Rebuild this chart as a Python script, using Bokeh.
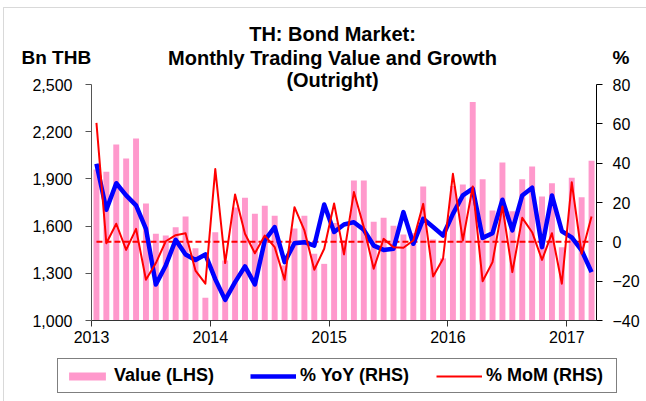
import pandas as pd
from bokeh.plotting import figure
from bokeh.models import (ColumnDataSource, Range1d, LinearAxis, FixedTicker,
                          NumeralTickFormatter, Legend, LegendItem, Label, BoxAnnotation)
from bokeh.embed import file_html
from bokeh.resources import INLINE

# ---- data (Jan 2013 .. Mar 2017) ----
months = [d.strftime("%Y-%m") for d in pd.date_range("2013-01-01", "2017-03-01", freq="MS")]

value_bn_thb = [1960, 1945, 2119, 2030, 2157, 1744, 1551, 1540, 1593, 1661, 1460, 1144,
                1561, 1381, 1718, 1780, 1678, 1729, 1665, 1350, 1585, 1665, 1424, 1360,
                1620, 1510, 1890, 1890, 1627, 1653, 1602, 1547, 1555, 1852, 1515, 1395,
                1855, 1864, 2388, 1898, 1699, 2004, 1695, 1898, 1979, 1788, 1873, 1466,
                1907, 1784, 2015]

yoy_pct = [39.7, 16.3, 29.8, 23.6, 18.5, 6.6, -21.7, -12.0, 1.0, -6.4, -9.2, -6.4,
           -19.0, -29.5, -20.5, -12.5, -21.7, 0.7, 7.5, -10.3, -0.7, -0.2, -1.9, 19.0,
           5.0, 8.8, 10.0, 6.1, -1.9, -4.1, -3.5, 15.1, -1.0, 11.7, 7.5, 3.2,
           14.2, 23.6, 27.0, 2.0, 4.4, 21.4, 5.8, 23.6, 27.5, -2.7, 23.6, 5.4,
           2.3, -4.4, -15.4]

mom_pct = [60.5, -0.7, 9.2, -4.1, 6.6, -19.3, -10.8, 0.3, 3.4, 4.4, -14.6, -21.3,
           37.0, -10.8, 24.1, 4.1, -5.8, 3.2, -2.7, -19.3, 17.6, 5.8, -14.2, -3.5,
           19.5, -6.4, 25.3, 7.5, -13.7, 1.5, -2.7, -3.0, 0.7, 19.3, -17.6, -8.6,
           34.6, 0.7, 28.1, -20.0, -10.3, 18.0, -15.4, 12.2, 4.9, -9.2, 4.4, -21.3,
           30.3, -6.1, 12.9]

zero_ref = [0.0] * len(months)          # the dashed 0 % reference line
year_labels = ["2013", "2014", "2015", "2016", "2017"]
left_ticks = [1000, 1300, 1600, 1900, 2200, 2500]
right_ticks = [-40, -20, 0, 20, 40, 60, 80]
title_lines = ["TH: Bond Market:", "Monthly Trading Value and Growth", "(Outright)"]
left_unit = "Bn THB"
right_unit = "%"
series_names = ["Value (LHS)", "% YoY (RHS)", "% MoM (RHS)"]

# ---- geometry (pixels) ----
W, H = 646, 401
AX_L, AX_R, AX_T, AX_B = 91, 596, 84, 320      # where the axes box sits on the canvas
LV0, LV1 = left_ticks[0], left_ticks[-1]
RV0, RV1 = right_ticks[0], right_ticks[-1]
X0, X1 = -0.5, len(months) - 0.5

kx = (X1 - X0) / (AX_R - AX_L)
kl = (LV1 - LV0) / (AX_B - AX_T)
kr = (RV1 - RV0) / (AX_B - AX_T)

FONT = "Liberation Sans"

idx = list(range(len(months)))
src = ColumnDataSource(dict(i=idx, month=months, value=value_bn_thb, yoy=yoy_pct,
                            mom=mom_pct, zero=zero_ref))

p = figure(width=W, height=H, output_backend="svg", toolbar_location=None,
           x_range=Range1d(X0 - AX_L * kx, X1 + (W - AX_R) * kx),
           y_range=Range1d(LV0 - (H - AX_B) * kl, LV1 + AX_T * kl),
           min_border=0)
p.extra_y_ranges = {"pct": Range1d(RV0 - (H - AX_B) * kr, RV1 + AX_T * kr)}
p.xgrid.visible = False
p.ygrid.visible = False
p.outline_line_color = None
p.background_fill_color = "white"
p.border_fill_color = "white"

bars = p.vbar(x="i", top="value", bottom=LV0, width=0.6, source=src,
              fill_color="#FF99CC", line_color=None)
p.line(x="i", y="zero", source=src, y_range_name="pct",
       line_color="#FF0000", line_width=2, line_dash="6 3")
yoy_r = p.line(x="i", y="yoy", source=src, y_range_name="pct",
               line_color="#0000FF", line_width=4.5, line_join="round")
mom_r = p.line(x="i", y="mom", source=src, y_range_name="pct",
               line_color="#FF0000", line_width=2, line_join="round")

# x axis: year boundaries, drawn at value 1,000
year_pos = [i - 0.5 for i, m in enumerate(months) if m.endswith("-01")]
xa = p.xaxis[0]
xa.fixed_location = LV0
xa.bounds = (X0, X1)
xa.ticker = FixedTicker(ticks=year_pos)
xa.major_label_overrides = {pos: lab for pos, lab in zip(year_pos, year_labels)}
xa.minor_tick_line_color = None
xa.major_tick_in = 0
xa.major_tick_out = 6
xa.major_label_standoff = 4
xa.axis_line_color = "#333333"
xa.major_tick_line_color = "#333333"
xa.major_label_text_font = FONT
xa.major_label_text_font_size = "16px"
xa.major_label_text_color = "black"

ya = p.yaxis[0]
ya.fixed_location = X0
ya.bounds = (LV0, LV1)
ya.ticker = FixedTicker(ticks=left_ticks)
ya.formatter = NumeralTickFormatter(format="0,0")
ya.minor_tick_line_color = None
ya.major_tick_in = 0
ya.major_tick_out = 6
ya.major_label_standoff = 13
ya.axis_line_color = "#555555"
ya.major_tick_line_color = "#555555"
ya.major_label_text_font = FONT
ya.major_label_text_font_size = "16px"
ya.major_label_text_color = "black"

ra = LinearAxis(y_range_name="pct", ticker=FixedTicker(ticks=right_ticks),
                fixed_location=X1, bounds=(RV0, RV1))
ra.minor_tick_line_color = None
ra.major_tick_in = 0
ra.major_tick_out = 6
ra.major_label_standoff = 10
ra.axis_line_color = "black"
ra.major_tick_line_color = "black"
ra.major_label_text_font = FONT
ra.major_label_text_font_size = "16px"
ra.major_label_text_color = "black"
p.add_layout(ra, "right")

# outer chart border (top and left edges visible in the reference)
p.add_layout(BoxAnnotation(left=3, right=W + 20, top=H - 7, bottom=-20,
                           left_units="screen", right_units="screen",
                           top_units="screen", bottom_units="screen",
                           fill_alpha=0, line_color="#808080", line_width=1))

# titles and unit captions (screen units, y measured upward from the bottom)
for text, yc in zip(title_lines, [33, 57, 79]):
    p.add_layout(Label(x=332, y=H - yc, x_units="screen", y_units="screen", text=text,
                       text_font=FONT, text_font_size="20px", text_font_style="bold",
                       text_align="center", text_baseline="middle", text_color="black"))
p.add_layout(Label(x=21, y=H - 57, x_units="screen", y_units="screen", text=left_unit,
                   text_font=FONT, text_font_size="19px", text_font_style="bold",
                   text_align="left", text_baseline="middle", text_color="black"))
p.add_layout(Label(x=612, y=H - 57, x_units="screen", y_units="screen", text=right_unit,
                   text_font=FONT, text_font_size="19px", text_font_style="bold",
                   text_align="left", text_baseline="middle", text_color="black"))

legend = Legend(items=[LegendItem(label=series_names[0], renderers=[bars]),
                       LegendItem(label=series_names[1], renderers=[yoy_r]),
                       LegendItem(label=series_names[2], renderers=[mom_r])],
                orientation="horizontal", location=(57, H - 393),
                glyph_width=46, glyph_height=10, label_standoff=4, label_width=124,
                spacing=12, padding=6, margin=0, label_height=18,
                label_text_font=FONT, label_text_font_size="18px",
                label_text_font_style="bold", label_text_color="black",
                border_line_color="black", border_line_width=1,
                background_fill_color="white", background_fill_alpha=1)
p.add_layout(legend)

open("out.html", "w").write(file_html(p, INLINE))
